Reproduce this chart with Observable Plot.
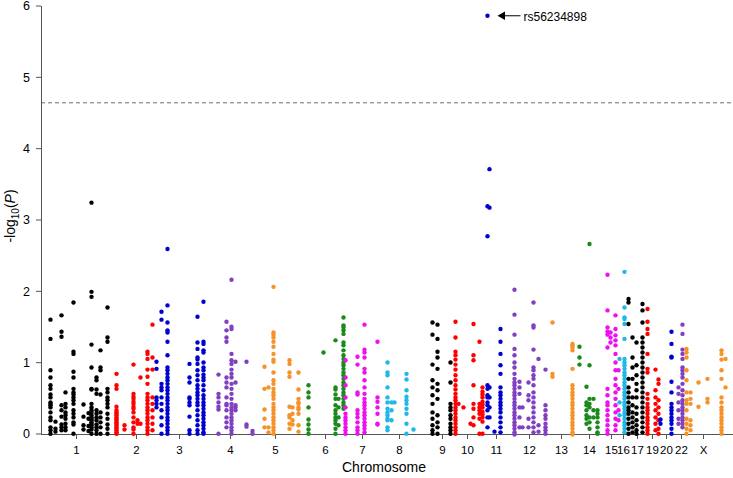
<!DOCTYPE html>
<html>
<head>
<meta charset="utf-8">
<script src="https://cdn.jsdelivr.net/npm/d3@7"></script>
<script src="https://cdn.jsdelivr.net/npm/@observablehq/plot@0.6"></script>
<style>
  html, body { margin: 0; padding: 0; background: #fff; }
  #chart svg { display: block; }
</style>
</head>
<body>
<div id="chart"></div>
<script>
// Chromosome labels, tick positions (cumulative genome position units) and colour cycle
const chromosomes = ["1","2","3","4","5","6","7","8","9","10","11","12","13","14","15","16","17","19","20","22","X"];
const tickPositions = [35,95,138,189,234,284,321,358,401,426,455,488,520,548,570,582,596,611,625,640,662];
const yTicks = [0,1,2,3,4,5,6];
const palette = ["#000000","#FF0000","#0000D0","#8040C0","#F5922A","#1A8A1A","#EE10EE","#20B8E8"];
const threshold = 4.65;
const topSnp = "rs56234898";

// Per chromosome: [position, [-log10(P) values at that position]]
const chr1 = [
  [9, [1.61,1.34,0.90,0.80,0.69,0.64,0.56,0.52,0.45,0.43,0.41,0.38,0.31,0.24,0.20,0.10,0.06,0.01]],
  [14, [0.18,0.08,0.04]],
  [20, [1.67,1.44,1.37,0.41,0.34,0.25,0.14,0.10,0.06]],
  [24, [0.59,0.43,0.38,0.31,0.27,0.22,0.15,0.10,0.06]],
  [32, [1.85,1.16,1.13,0.88,0.80,0.64,0.59,0.56,0.52,0.48,0.43,0.34,0.29,0.24,0.17,0.14,0.01]],
  [42, [0.42,0.25,0.13,0.07]],
  [47, [0.30,0.22,0.12,0.05]],
  [50, [3.25,2.00,1.93,1.26,0.94,0.64,0.63,0.43,0.38,0.34,0.31,0.27,0.24,0.22,0.20,0.17,0.15,0.13,0.10,0.07,0.01]],
  [55, [0.80,0.76,0.63,0.57,0.34,0.29,0.24,0.20,0.14,0.10,0.06,0.01]],
  [59, [1.18,0.94,0.90,0.56,0.31,0.24,0.17,0.10,0.01]],
  [66, [1.78,1.36,1.30,0.64,0.59,0.52,0.48,0.43,0.38,0.29,0.22,0.14,0.08,0.01]]
];
const chr2 = [
  [75, [0.85,0.69,0.64,0.39,0.34,0.31,0.29,0.27,0.24,0.22,0.20,0.17,0.15,0.13,0.10,0.08,0.06,0.03,0.01]],
  [83, [0.13,0.07]],
  [92, [0.98,0.57,0.53,0.50,0.46,0.43,0.39,0.36,0.31,0.24,0.17,0.10,0.07,0.01]],
  [96, [0.20,0.15]],
  [99, [0.80,0.15]],
  [106, [1.16,1.13,1.06,0.91,0.81,0.71,0.57,0.52,0.48,0.43,0.38,0.34,0.29,0.24,0.20,0.15,0.10,0.06,0.01]],
  [111, [1.54,1.08,0.91,0.52,0.43,0.34,0.24,0.15,0.06]]
];
const chr3 = [
  [115, [1.02,0.92,0.52,0.48,0.43,0.38]],
  [120, [1.72,1.61,0.71,0.66,0.62,0.52,0.43,0.34,0.24,0.13,0.01]],
  [126, [2.60,1.81,1.57,1.46,1.43,1.30,1.11,0.94,0.90,0.85,0.80,0.76,0.71,0.66,0.62,0.57,0.52,0.48,0.43,0.38,0.34,0.29,0.24,0.20,0.15,0.10,0.06,0.01]],
  [148, [0.99,0.80,0.73,0.52,0.50,0.45,0.41,0.25,0.06,0.01]],
  [156, [1.65,1.29,1.20,1.08,1.05,0.99,0.90,0.83,0.76,0.69,0.64,0.59,0.55,0.50,0.45,0.41,0.34,0.27,0.20,0.13,0.06,0.01]],
  [162, [1.86,1.30,1.27,1.18,1.15,1.01,0.94,0.90,0.84,0.80,0.76,0.69,0.62,0.55,0.50,0.45,0.41,0.36,0.31,0.27,0.22,0.17,0.13,0.08,0.03,0.01]]
];
const chr4 = [
  [177, [0.84,0.57,0.52,0.45,0.39,0.35,0.01]],
  [185, [1.58,1.46,1.36,1.30,0.80,0.73,0.66,0.52,0.43,0.41,0.34,0.24,0.17,0.10]],
  [190, [2.17,1.51,1.48,1.13,1.04,0.99,0.91,0.85,0.80,0.71,0.64,0.57,0.50,0.43,0.38,0.34,0.29,0.24,0.20,0.15,0.10,0.06,0.01]],
  [194, [1.02,0.73,0.41,0.38,0.34]],
  [205, [1.02,0.14,0.11]],
  [211, [0.05,0.01]]
];
const chr5 = [
  [223, [0.95,0.64,0.35,0.22,0.10]],
  [227, [0.66,0.10,0.03]],
  [232, [2.07,1.43,1.40,1.36,1.30,1.23,1.13,1.05,1.02,0.87,0.76,0.71,0.64,0.59,0.55,0.50,0.43,0.38,0.34,0.29,0.24,0.20,0.15,0.10,0.06,0.01]],
  [248, [1.04,0.99,0.87,0.81,0.39,0.27,0.24,0.15,0.08]],
  [251, [0.38,0.29,0.20,0.14]],
  [257, [0.87,0.63,0.50,0.45,0.43,0.38,0.35,0.29,0.13,0.04]]
];
const chr6 = [
  [267, [0.69,0.59,0.52,0.38,0.21,0.14,0.07,0.01]],
  [282, [1.15]],
  [294, [1.32,0.66,0.63,0.56,0.50,0.41,0.34,0.29,0.24,0.20,0.15,0.08,0.01]],
  [297, [0.50,0.38,0.24,0.13]],
  [302, [1.64,1.53,1.50,1.46,1.41,1.29,1.25,1.18,1.11,1.06,1.01,0.97,0.92,0.87,0.83,0.78,0.73,0.69,0.64,0.59,0.55,0.50,0.45,0.41,0.36]]
];
const chr7 = [
  [304, [1.04,0.80,0.69,0.52,0.38,0.29,0.24,0.20,0.15,0.10,0.06,0.01]],
  [316, [1.09,0.98,0.59,0.56,0.34,0.29,0.24,0.17,0.10,0.06,0.01]],
  [323, [1.54,1.19,1.15,1.08,0.92,0.87,0.76,0.66,0.57,0.50,0.45,0.41,0.36,0.31,0.27,0.22,0.17,0.13,0.08,0.03]],
  [336, [1.30,0.52,0.46,0.38,0.29,0.15,0.14]]
];
const chr8 = [
  [346, [1.01,0.87,0.83,0.66,0.52,0.45,0.36,0.31,0.27,0.22,0.20,0.10,0.06]],
  [350, [0.45,0.34,0.20]],
  [353, [0.45]],
  [365, [0.85,0.77,0.62,0.53,0.48,0.43,0.36,0.29,0.15,0.01]],
  [372, [0.07]]
];
const chr9 = [
  [391, [1.57,1.40,0.98,0.76,0.66,0.55,0.43,0.31,0.22,0.13,0.06,0.01]],
  [396, [1.54,1.34,1.16,1.08,0.92,0.71,0.62,0.50,0.27,0.17,0.10,0.01]],
  [409, [1.01,0.73,0.43,0.38,0.34,0.27,0.22,0.15,0.10,0.06,0.01]]
];
const chr10 = [
  [414, [1.58,1.36,1.16,1.11,1.05,0.98,0.91,0.83,0.76,0.69,0.63,0.57,0.52,0.48,0.43,0.38,0.34,0.29,0.24,0.20,0.15,0.10,0.06,0.01]],
  [417, [0.43]],
  [422, [0.38]],
  [429, [0.15]],
  [432, [1.55,1.11,1.04,0.69,0.43,0.36,0.24,0.13]],
  [438, [1.30,0.43,0.38,0.34,0.29,0.22,0.01]],
  [441, [0.66,0.60,0.56,0.52,0.46,0.42,0.38,0.32,0.28,0.24,0.18,0.01]]
];
const chr11 = [
  [446, [5.87,3.20,2.78,0.69,0.64,0.55,0.52,0.45,0.41,0.34,0.24,0.10]],
  [448, [3.72,3.18,0.66,0.52,0.38,0.24]],
  [453, [0.04]],
  [459, [1.48,1.30,1.13,0.97,0.85,0.66,0.59,0.55,0.50,0.45,0.41,0.36,0.31,0.24,0.17,0.10,0.03]]
];
const chr12 = [
  [473, [2.03,1.68,1.40,1.20,1.11,1.01,0.94,0.85,0.78,0.73,0.69,0.64,0.59,0.55,0.50,0.45,0.41,0.36,0.31,0.27,0.22,0.17,0.13,0.08,0.03,0.00]],
  [478, [0.74,0.66,0.57,0.38,0.24,0.10]],
  [481, [0.38,0.10]],
  [487, [0.73,0.55,0.48,0.22,0.10]],
  [492, [1.85,1.53,1.50,1.19,0.94,0.90,0.83,0.78,0.69,0.59,0.52,0.45,0.38,0.31,0.24,0.17,0.10,0.03]],
  [497, [1.06,0.13,0.04]],
  [504, [0.91,0.41,0.34,0.27,0.22,0.15,0.10,0.06,0.01]]
];
const chr13 = [
  [511, [1.57,0.85,0.81]],
  [531, [1.27,1.25,1.22,1.18,0.92,0.69,0.64,0.59,0.55,0.50,0.45,0.41,0.36,0.31,0.27,0.22,0.17,0.13,0.08,0.03,0.00]]
];
const chr14 = [
  [538, [1.23,1.08,0.98]],
  [545, [0.67,0.45,0.41,0.34,0.27,0.22,0.15]],
  [548, [2.67,0.97,0.50,0.43,0.38,0.24,0.17,0.08]],
  [552, [0.50,0.34,0.24]],
  [556, [0.34,0.29,0.24,0.17,0.10,0.03,0.01]]
];
const chr15 = [
  [566, [2.24,1.74,1.50,1.44,1.40,1.22,0.64,0.55,0.45,0.41,0.34,0.27,0.20,0.13,0.06,0.01]],
  [569, [1.43,1.36,1.29]],
  [574, [1.67,1.48,1.39,1.32,1.25,1.13,1.01,0.90,0.78,0.69,0.59,0.50,0.41,0.31,0.22,0.13,0.06]],
  [577, [0.90,0.64,0.34,0.20]]
];
const chr16 = [
  [578, [1.06,0.45,0.27]],
  [583, [2.28,1.78,1.64,1.62,1.55,1.34,1.06,1.01,0.97,0.92,0.87,0.83,0.78,0.73,0.69,0.64,0.59,0.55,0.50,0.45,0.41,0.36,0.31,0.27,0.22,0.17,0.13,0.08,0.03]]
];
const chr17 = [
  [587, [1.90,1.85,1.55,0.78,0.66,0.59,0.52,0.45,0.38,0.34,0.29,0.22,0.15,0.08,0.01]],
  [591, [1.36,1.08,0.94,0.78,0.52,0.41,0.31,0.24,0.17,0.10,0.03]],
  [595, [1.29,0.97,0.83,0.71,0.62,0.52,0.38,0.29,0.20,0.13,0.06,0.01]],
  [601, [1.83,1.74,1.57,1.36,1.29,1.22,1.15,1.08,1.01,0.94,0.87,0.80,0.73,0.66,0.59,0.52,0.45,0.38,0.31,0.24,0.17,0.10,0.03]]
];
const chr19 = [
  [606, [1.76,1.58,1.48,1.41,1.13,0.92,0.87,0.57,0.50,0.43,0.38,0.34,0.29,0.24,0.20,0.15,0.10,0.06,0.01]],
  [614, [0.91,0.62,0.52,0.43,0.34,0.24,0.15,0.06]],
  [617, [0.77,0.71,0.48,0.38,0.29,0.20,0.08,0.01]]
];
const chr20 = [
  [619, [0.21,0.15]],
  [630, [1.44,1.27,1.09,1.08,0.74,0.59,0.43,0.38,0.34,0.29,0.24,0.20,0.15,0.08,0.01]]
];
const chr22 = [
  [637, [0.66,0.57,0.45,0.34,0.22,0.15]],
  [641, [1.54,1.41,1.19,1.13,1.06,0.94,0.90,0.85,0.80,0.71,0.62,0.55,0.48,0.43,0.38,0.34,0.29,0.24,0.20,0.15,0.10]]
];
const chrX = [
  [645, [1.20,1.15,1.08,0.90,0.76,0.59,0.48,0.43,0.34,0.22,0.15,0.08,0.01]],
  [649, [0.59,0.50,0.43,0.20,0.13,0.06]],
  [657, [0.73,0.39]],
  [666, [0.78,0.50,0.45]],
  [680, [1.18,1.13,1.05,0.90,0.78,0.52,0.45,0.38,0.34,0.29,0.24,0.20,0.15,0.10,0.06,0.01]],
  [684, [1.06,0.66]]
];

const perChromosome = [chr1,chr2,chr3,chr4,chr5,chr6,chr7,chr8,chr9,chr10,chr11,chr12,chr13,chr14,chr15,chr16,chr17,chr19,chr20,chr22,chrX];

const rows = [];
perChromosome.forEach((cols, i) => {
  cols.forEach(([pos, vals]) => {
    vals.forEach(p => rows.push({chr: chromosomes[i], pos, p, col: palette[i % palette.length]}));
  });
});
const labelByPos = new Map(tickPositions.map((p, i) => [p, chromosomes[i]]));
const peak = rows.reduce((a, b) => (b.p > a.p ? b : a));

const chart = Plot.plot({
  width: 733,
  height: 478,
  marginLeft: 41,
  marginRight: 0,
  marginTop: 6,
  marginBottom: 44,
  x: {domain: [0, 692], axis: null},
  y: {domain: [0, 6], axis: null},
  style: {fontFamily: "'Liberation Sans', Arial, Helvetica, sans-serif", background: "#fff", color: "#000"},
  marks: [
    Plot.ruleY([threshold], {stroke: "#707070", strokeDasharray: "4,3", strokeWidth: 1}),
    Plot.ruleX([0], {stroke: "#555"}),
    Plot.ruleY([0], {stroke: "#555"}),
    Plot.axisX(tickPositions, {anchor: "bottom", tickFormat: d => labelByPos.get(d), tickSize: 5, tickPadding: 6, fontSize: 11.5, label: null, stroke: "#555"}),
    Plot.dot(rows, {x: "pos", y: "p", r: 2.2, fill: d => d.col, stroke: null}),
    Plot.link([peak], {x1: d => d.pos + 15, x2: d => d.pos + 33, y1: "p", y2: "p", stroke: "#000", strokeWidth: 1}),
    Plot.dot([peak], {x: d => d.pos + 15, y: "p", symbol: "triangle", r: 3.2, rotate: -90, fill: "#000", stroke: null}),
    Plot.text([peak], {x: d => d.pos + 36, y: "p", text: () => topSnp, textAnchor: "start", fontSize: 12, dy: 1})
  ]
});

const svg = d3.select(chart);
const yScale = chart.scale("y");
const xScale = chart.scale("x");
const axisX0 = xScale.range[0];

// y axis ticks and labels, placed with Plot's own y scale
const yAxis = svg.append("g").attr("font-size", 12.5).attr("fill", "#000");
yTicks.forEach(t => {
  const yy = yScale.apply(t);
  yAxis.append("line")
    .attr("x1", axisX0 - 5).attr("x2", axisX0)
    .attr("y1", yy).attr("y2", yy)
    .attr("stroke", "#555");
  yAxis.append("text")
    .attr("x", axisX0 - 11).attr("y", yy)
    .attr("dy", "0.35em")
    .attr("text-anchor", "end")
    .text(String(t));
});

const yl = svg.append("text")
  .attr("transform", "translate(15,216) rotate(-90)")
  .attr("text-anchor", "middle")
  .attr("font-size", 14)
  .attr("fill", "#000");
yl.append("tspan").text("-log");
yl.append("tspan").attr("font-size", 10).attr("dy", 4).text("10");
yl.append("tspan").attr("dy", -4).text("(");
yl.append("tspan").attr("font-style", "italic").text("P");
yl.append("tspan").text(")");

svg.append("text")
  .attr("x", 384).attr("y", 472)
  .attr("text-anchor", "middle")
  .attr("font-size", 14)
  .attr("fill", "#000")
  .text("Chromosome");

document.getElementById("chart").appendChild(chart);
</script>
</body>
</html>
